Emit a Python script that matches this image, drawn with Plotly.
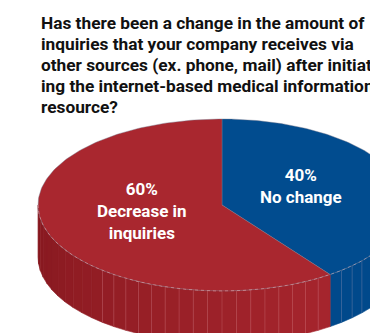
import numpy as np
import plotly.graph_objects as go

# ---- data ----
labels = ["No change", "Decrease in inquiries"]
values = [40, 60]
label_text = ["40%<br>No change", "60%<br>Decrease in<br>inquiries"]
title_lines = [
    "Has there been a change in the amount of",
    "inquiries that your company receives via",
    "other sources (ex. phone, mail) after initiat-",
    "ing the internet-based medical information",
    "resource?",
]

# ---- style / geometry ----
top_colors = ["#014C8F", "#A9272F"]
side_dark = ["#003F7E", "#86181F"]
side_light = ["#00498B", "#A6252D"]
W, H = 370, 333
cx, cy, rx, ry, depth = 222, 205, 184, 86, 52
start_deg = 90.0
FONT = "Roboto, Lato, sans-serif"

def hex2rgb(h):
    h = h.lstrip("#")
    return np.array([int(h[i:i + 2], 16) for i in (0, 2, 4)], dtype=float)

def mix(a, b, f):
    c = hex2rgb(a) * (1 - f) + hex2rgb(b) * f
    return "rgb(%d,%d,%d)" % tuple(c.round())

def pt(t_deg, dz=0.0):
    t = np.radians(t_deg)
    return cx + rx * np.cos(t), cy - ry * np.sin(t) + dz

# slice angle ranges (clockwise from 12 o'clock)
total = float(sum(values))
ranges = []
a = start_deg
for v in values:
    span = 360.0 * v / total
    ranges.append((a - span, a))  # standard angles [lo, hi]
    a -= span

fig = go.Figure()

# ---- side walls (front half: angles 180..360) ----
for i, (lo, hi) in enumerate(ranges):
    for shift in (0, 360, -360):
        l, h = lo + shift, hi + shift
        vl, vh = max(l, 180.0), min(h, 360.0)
        if vh <= vl:
            continue
        n = max(2, int(np.ceil((vh - vl) / 4.5)))
        edges = np.linspace(vl, vh, n + 1)
        for k in range(n):
            t0, t1 = edges[k], edges[k + 1]
            ts = np.linspace(t0, t1, 6)
            xs_top, ys_top = pt(ts)
            xs_bot, ys_bot = pt(ts[::-1], depth)
            xs = np.concatenate([xs_top, xs_bot, [xs_top[0]]])
            ys = np.concatenate([ys_top, ys_bot, [ys_top[0]]])
            f = ((t0 + t1) / 2 - 180.0) / 180.0
            f = min(1.0, f / 0.7)
            col = mix(side_dark[i], side_light[i], f)
            fig.add_trace(go.Scatter(x=xs, y=ys, mode="lines", fill="toself",
                                     fillcolor=col, line=dict(width=0.6, color=col),
                                     hoverinfo="skip"))
        for t in edges[1:-1]:
            if t < 228:
                continue
            x0, y0 = pt(t)
            x1, y1 = pt(t, depth)
            fig.add_trace(go.Scatter(x=[x0, x1], y=[y0, y1], mode="lines",
                                     line=dict(width=0.7, color="rgba(255,190,200,0.25)"),
                                     hoverinfo="skip"))

# ---- top faces ----
for i, (lo, hi) in enumerate(ranges):
    ts = np.linspace(lo, hi, 200)
    xs, ys = pt(ts)
    xs = np.concatenate([[cx], xs, [cx]])
    ys = np.concatenate([[cy], ys, [cy]])
    fig.add_trace(go.Scatter(x=xs, y=ys, mode="lines", fill="toself",
                             fillcolor=top_colors[i],
                             line=dict(width=0.7, color="rgba(120,120,140,0.6)"),
                             hoverinfo="skip"))

# front rim highlight
ts = np.linspace(180, 360, 200)
xs, ys = pt(ts)
fig.add_trace(go.Scatter(x=xs, y=ys, mode="lines",
                         line=dict(width=0.8, color="rgba(255,210,215,0.5)", dash="dot"),
                         hoverinfo="skip"))

# ---- labels ----
label_pos = [(301, 186), (142, 211)]
for (lx, ly), txt in zip(label_pos, label_text):
    fig.add_annotation(x=lx, y=ly, xref="x", yref="y", text="<b>%s</b>" % txt.replace("<br>", "</b><br><b>"),
                       showarrow=False,
                       font=dict(family=FONT, size=17, color="white"),
                       align="center")

# ---- title (one annotation per line for tight leading) ----
for j, line in enumerate(title_lines):
    fig.add_annotation(x=39, y=23 + j * 21, xref="x", yref="y", text="<b>%s</b>" % line,
                       showarrow=False, xanchor="left", yanchor="middle",
                       font=dict(family=FONT, size=17.3, color="#111111"))

fig.update_layout(width=W, height=H, margin=dict(l=0, r=0, t=0, b=0),
                  paper_bgcolor="white", plot_bgcolor="white", showlegend=False,
                  xaxis=dict(range=[0, W], visible=False, fixedrange=True),
                  yaxis=dict(range=[H, 0], visible=False, fixedrange=True))
fig.write_html("out.html")
